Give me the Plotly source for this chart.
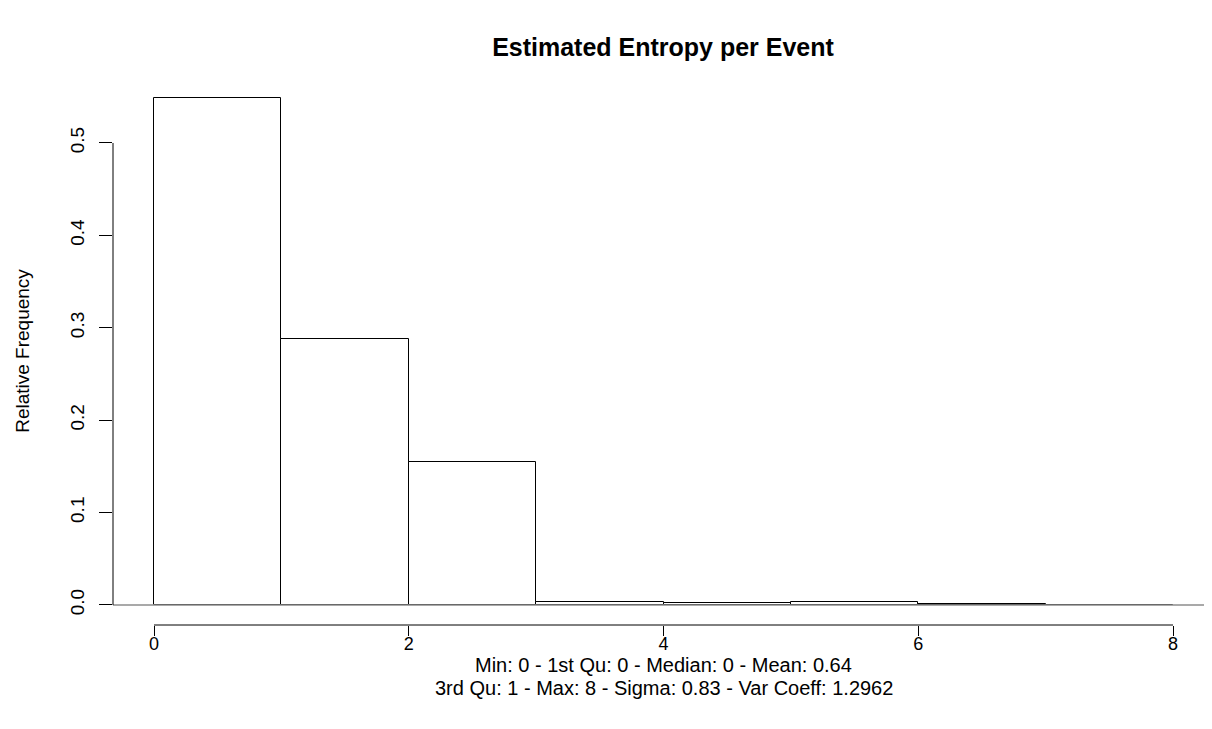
import plotly.graph_objects as go

# Histogram bins (entropy per event) and relative frequencies
bin_left = [0, 1, 2, 3, 4, 5, 6, 7]
bin_right = [1, 2, 3, 4, 5, 6, 7, 8]
rel_freq = [0.5485, 0.2876, 0.1544, 0.0035, 0.0017, 0.0035, 0.0010, 0.0003]

x_ticks = [0, 2, 4, 6, 8]
y_ticks = [0.0, 0.1, 0.2, 0.3, 0.4, 0.5]
y_tick_text = ["0.0", "0.1", "0.2", "0.3", "0.4", "0.5"]

title_text = "Estimated Entropy per Event"
y_title = "Relative Frequency"
sub_line1 = "Min: 0 - 1st Qu: 0 - Median: 0 - Mean: 0.64"
sub_line2 = "3rd Qu: 1 - Max: 8 - Sigma: 0.83 - Var Coeff: 1.2962"

centers = [(a + b) / 2 for a, b in zip(bin_left, bin_right)]
widths = [b - a for a, b in zip(bin_left, bin_right)]

FONT = "Liberation Sans, Arial, sans-serif"
FS = 20
FS_TICK = 18
FS_Y = 19

W, H = 1204, 721  # page body adds an 8px margin
PLOT_H = 548

fig = go.Figure()
fig.add_trace(go.Bar(
    x=centers, y=rel_freq, width=widths,
    marker=dict(color="white", line=dict(color="black", width=1)),
    hoverinfo="skip", showlegend=False,
))

# baseline (gray) across plot region
fig.add_shape(type="line", xref="paper", yref="y", x0=0, x1=1, y0=0, y1=0,
              line=dict(color="#8c8c8c", width=1.5), layer="above")
# x-axis line from first to last tick
fig.add_shape(type="line", xref="x", yref="paper", x0=x_ticks[0], x1=x_ticks[-1], y0=0, y1=0,
              line=dict(color="black", width=1))
# y-axis line from first to last tick
fig.add_shape(type="line", xref="paper", yref="y", x0=0, x1=0, y0=y_ticks[0], y1=y_ticks[-1],
              line=dict(color="black", width=1))

fig.update_layout(
    width=W, height=H,
    paper_bgcolor="white", plot_bgcolor="white",
    margin=dict(l=105, r=0, t=69, b=104),
    font=dict(family=FONT, size=FS, color="black"),
    title=dict(text="<b>" + title_text + "</b>", x=655 / W, xanchor="center",
               y=1 - 39 / H, yanchor="middle", font=dict(size=25, family=FONT)),
    bargap=0,
    xaxis=dict(range=[-0.3219, 8.306], tickvals=x_ticks, ticktext=[str(v) for v in x_ticks],
               ticks="outside", ticklen=10, tickcolor="black", showgrid=False,
               ticklabelstandoff=-8, tickfont=dict(size=FS_TICK),
               zeroline=False, showline=False, fixedrange=True),
    yaxis=dict(range=[-0.02165, 0.5714], tickvals=y_ticks, ticktext=y_tick_text,
               ticks="outside", ticklen=13, tickcolor="black", tickangle=-90,
               ticklabelstandoff=7, tickfont=dict(size=FS_Y),
               showgrid=False, zeroline=False, showline=False,
               title=dict(text=y_title, standoff=32, font=dict(size=FS_Y)), fixedrange=True),
)

fig.add_annotation(text=sub_line1, xref="x", yref="paper", x=4, y=-40 / PLOT_H,
                   showarrow=False, xanchor="center", yanchor="middle", font=dict(size=FS))
fig.add_annotation(text=sub_line2, xref="x", yref="paper", x=4, y=-63 / PLOT_H,
                   showarrow=False, xanchor="center", yanchor="middle", font=dict(size=FS))

fig.write_html("out.html")
